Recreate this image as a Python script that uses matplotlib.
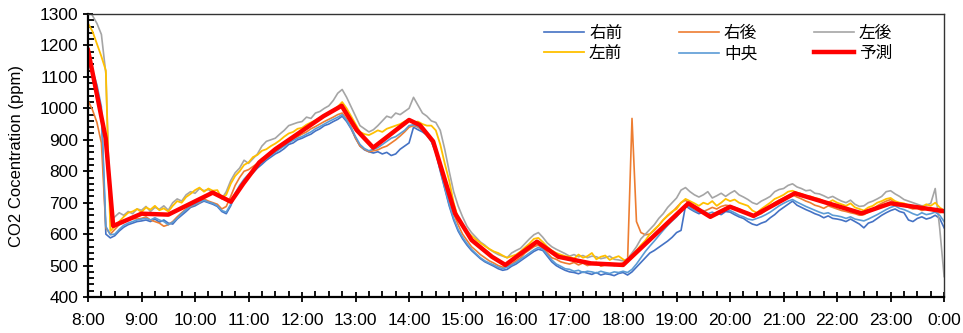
import numpy as np
import matplotlib
matplotlib.use('Agg')
import matplotlib.pyplot as plt
from matplotlib.ticker import MultipleLocator

plt.rcParams['font.family'] = ['Liberation Sans', 'Noto Sans CJK JP']

# sensor readings every 5 minutes, 8:00 -> 0:00 (one row per hour)
right_front = [
    1150, 1110, 1060, 985, 600, 588, 595, 610, 622, 630, 635, 640,
    642, 645, 640, 648, 638, 645, 635, 632, 648, 660, 672, 685,
    690, 698, 705, 700, 695, 688, 672, 665, 690, 725, 750, 770,
    785, 795, 810, 822, 835, 845, 855, 862, 872, 885, 890, 900,
    905, 912, 918, 928, 935, 945, 950, 958, 965, 975, 958, 935,
    905, 880, 868, 862, 858, 862, 855, 860, 850, 855, 870, 880,
    890, 940, 932, 925, 915, 895, 860, 800, 745, 690, 645, 610,
    585, 565, 548, 535, 522, 512, 505, 498, 490, 485, 488, 498,
    505, 515, 525, 535, 545, 552, 548, 530, 512, 500, 492, 485,
    480, 478, 474, 480, 476, 472, 478, 470, 474, 472, 468, 475,
    478, 470, 480, 495, 510, 525, 540, 548, 558, 568, 578, 590,
    605, 612, 690, 680, 672, 665, 670, 662, 660, 668, 662, 672,
    670, 662, 655, 650, 640, 632, 628, 635, 640, 652, 662, 675,
    685, 695, 705, 692, 685, 678, 672, 665, 660, 652, 658, 650,
    648, 645, 640, 648, 640, 632, 620, 635, 640, 650, 660, 668,
    675, 680, 672, 668, 645, 640, 650, 655, 648, 652, 660, 650,
    620]
right_rear = [
    1025, 995, 955, 890, 620, 600, 615, 630, 640, 645, 650, 648,
    650, 655, 645, 640, 635, 625, 630, 640, 655, 668, 680, 688,
    695, 700, 712, 705, 700, 695, 680, 688, 720, 755, 780, 800,
    805, 815, 825, 840, 848, 860, 868, 875, 885, 895, 902, 910,
    918, 925, 935, 942, 950, 958, 965, 972, 980, 985, 965, 940,
    905, 880, 870, 862, 865, 868, 875, 880, 890, 900, 912, 925,
    940, 945, 940, 930, 918, 900, 870, 820, 765, 710, 665, 630,
    600, 580, 560, 548, 535, 525, 515, 508, 500, 495, 498, 505,
    515, 525, 540, 550, 560, 565, 555, 540, 525, 520, 512, 508,
    505, 510, 502, 508, 500, 505, 510, 498, 502, 508, 500, 505,
    508, 512, 968, 640, 605, 598, 600, 612, 628, 645, 658, 670,
    685, 700, 708, 695, 688, 680, 672, 678, 685, 680, 688, 692,
    690, 685, 680, 672, 668, 655, 660, 665, 675, 690, 700, 708,
    715, 722, 725, 718, 712, 705, 700, 692, 688, 682, 690, 685,
    680, 675, 672, 668, 665, 660, 662, 670, 678, 690, 698, 705,
    710, 700, 695, 690, 685, 680, 682, 675, 680, 678, 672, 668,
    670]
left_rear = [
    1320, 1295, 1270, 1235, 1110, 640, 655, 668, 660, 672, 665, 680,
    676, 688, 672, 685, 679, 690, 676, 700, 712, 705, 725, 735,
    730, 745, 738, 742, 730, 728, 712, 735, 770, 795, 810, 835,
    825, 840, 855, 880, 895, 900, 905, 918, 930, 945, 950, 955,
    958, 972, 968, 985, 990, 1000, 1008, 1025, 1048, 1060, 1035, 1005,
    975, 945, 935, 925, 932, 945, 960, 975, 970, 985, 980, 990,
    1000, 1035, 1010, 985, 975, 960, 955, 930, 870, 800, 735, 690,
    655, 625, 605, 590, 575, 565, 552, 543, 535, 530, 525, 540,
    548, 555, 570, 585, 598, 605, 590, 572, 560, 552, 545, 538,
    530, 535, 528, 532, 525, 530, 528, 522, 525, 530, 520, 518,
    515, 522, 540, 560, 585, 600, 615, 630, 650, 665, 685, 700,
    715, 740, 748, 735, 725, 718, 725, 735, 715, 722, 730, 720,
    730, 738, 725, 718, 710, 700, 695, 705, 712, 720, 735, 742,
    745, 755, 760, 750, 745, 738, 740, 730, 728, 722, 715, 720,
    712, 705, 700, 708, 695, 688, 690, 700, 705, 712, 720, 735,
    738, 728, 720, 710, 705, 700, 695, 690, 692, 698, 745, 620,
    465]
left_front = [
    1270, 1245, 1205, 1165, 1120, 610, 625, 640, 655, 668, 672, 680,
    670, 685, 678, 690, 676, 682, 672, 690, 705, 700, 718, 728,
    740, 748, 735, 745, 738, 740, 715, 725, 760, 785, 800, 820,
    828, 845, 852, 865, 870, 880, 888, 898, 910, 920, 925, 935,
    938, 948, 955, 962, 970, 978, 985, 995, 1005, 1020, 1000, 975,
    950, 925, 918, 915, 922, 930, 925, 935, 940, 945, 950, 958,
    965, 955, 958, 950, 945, 945, 930, 885, 825, 770, 700, 650,
    625, 608, 595, 583, 572, 562, 553, 545, 540, 532, 525, 530,
    535, 545, 558, 570, 585, 588, 575, 560, 548, 540, 535, 530,
    528, 522, 535, 525, 530, 540, 520, 528, 532, 518, 525, 530,
    520, 512, 530, 548, 565, 580, 600, 615, 628, 645, 660, 672,
    680, 700, 712, 705, 698, 690, 700, 695, 705, 690, 700, 712,
    705, 710, 700, 695, 690, 675, 668, 680, 690, 700, 712, 718,
    725, 735, 738, 732, 728, 722, 720, 715, 712, 705, 700, 708,
    700, 695, 690, 698, 685, 680, 675, 685, 690, 700, 705, 712,
    715, 705, 700, 698, 692, 688, 690, 685, 695, 690, 700, 685,
    675]
center = [
    1140, 1120, 1075, 1005, 625, 598, 600, 615, 628, 635, 640, 645,
    648, 650, 645, 652, 645, 640, 630, 638, 650, 665, 678, 690,
    695, 702, 708, 702, 698, 690, 675, 670, 695, 730, 755, 775,
    790, 800, 815, 828, 840, 850, 860, 870, 880, 890, 898, 905,
    910, 918, 925, 935, 942, 950, 958, 965, 972, 980, 962, 938,
    910, 885, 872, 865, 870, 875, 885, 895, 905, 910, 920, 930,
    945, 948, 942, 930, 918, 895, 860, 805, 748, 695, 650, 615,
    590, 570, 552, 538, 525, 515, 508, 502, 495, 490, 495, 502,
    510, 520, 530, 540, 550, 558, 552, 535, 518, 505, 498, 490,
    488, 482, 485, 478, 482, 480, 476, 482, 478, 475, 480, 478,
    482, 478, 488, 505, 525, 545, 562, 578, 595, 612, 628, 642,
    655, 672, 692, 685, 675, 670, 675, 665, 670, 662, 672, 678,
    675, 668, 660, 655, 648, 645, 650, 655, 662, 670, 680, 690,
    698, 705, 710, 702, 695, 688, 682, 676, 670, 665, 668, 660,
    658, 655, 650, 655, 648, 645, 642, 648, 655, 662, 670, 678,
    685, 690, 682, 678, 672, 665, 660, 668, 662, 665, 670, 660,
    640]

# prediction polyline (hour of day, ppm)
pred_t = [8.0, 8.33, 8.47, 9.0, 9.5, 10.33, 10.67, 10.9, 11.2, 11.5, 11.8, 12.1,
          12.4, 12.74, 13.02, 13.33, 14.0, 14.2, 14.45, 14.67, 14.86, 15.17, 15.55,
          15.8, 16.39, 16.79, 17.4, 18.0, 19.22, 19.63, 20.0, 20.44, 21.21, 22.46,
          23.0, 24.0]
pred_v = [1185, 905, 626, 665, 662, 732, 703, 760, 828, 870, 905, 940,
          975, 1008, 931, 875, 963, 947, 895, 772, 666, 581, 528,
          502, 576, 528, 507, 502, 698, 655, 687, 658, 730, 666,
          698, 673]

hour_labels = [f'{h % 24}:00' for h in range(8, 25)]

t = 8 + np.arange(len(right_front)) * 5 / 60

fig = plt.figure(figsize=(9.63, 3.33), dpi=100)
ax = fig.add_axes([0.0914, 0.108, 0.889, 0.850])

ax.plot(t, right_front, color='#4472C4', lw=1.2, label='右前')
ax.plot(t, right_rear, color='#ED7D31', lw=1.2, label='右後')
ax.plot(t, left_rear, color='#A5A5A5', lw=1.2, label='左後')
ax.plot(t, left_front, color='#FFC000', lw=1.3, label='左前')
ax.plot(t, center, color='#5B9BD5', lw=1.2, label='中央')
ax.plot(pred_t, pred_v, color='#FF0000', lw=3.2, label='予測')

ax.set_xlim(8, 24)
ax.set_ylim(400, 1300)
ax.set_xticks(range(8, 25))
ax.set_xticklabels(hour_labels)
ax.xaxis.set_minor_locator(MultipleLocator(0.25))
ax.yaxis.set_major_locator(MultipleLocator(100))
ax.yaxis.set_minor_locator(MultipleLocator(20))
ax.tick_params(which='major', direction='inout', length=7, width=1.3, labelsize=12.5)
ax.tick_params(which='minor', direction='in', length=4, width=1.3)
ax.tick_params(axis='x', pad=8)
ax.set_ylabel('CO2 Cocentration (ppm)', fontsize=12, labelpad=11)

for side in ['left', 'bottom']:
    ax.spines[side].set_linewidth(1.6)
for side in ['top', 'right']:
    ax.spines[side].set_linewidth(1.0)
    ax.spines[side].set_color('#333333')

h, l = ax.get_legend_handles_labels()
order = [0, 3, 1, 4, 2, 5]
ax.legend([h[i] for i in order], [l[i] for i in order], ncol=3, frameon=False,
          loc='upper left', bbox_to_anchor=(544 / 963, 1 - 26 / 333),
          bbox_transform=fig.transFigure, fontsize=12, handlelength=2.4,
          handletextpad=0.3, columnspacing=3.4, labelspacing=0.3,
          borderpad=0, borderaxespad=0)

fig.savefig('out.png', dpi=100)
